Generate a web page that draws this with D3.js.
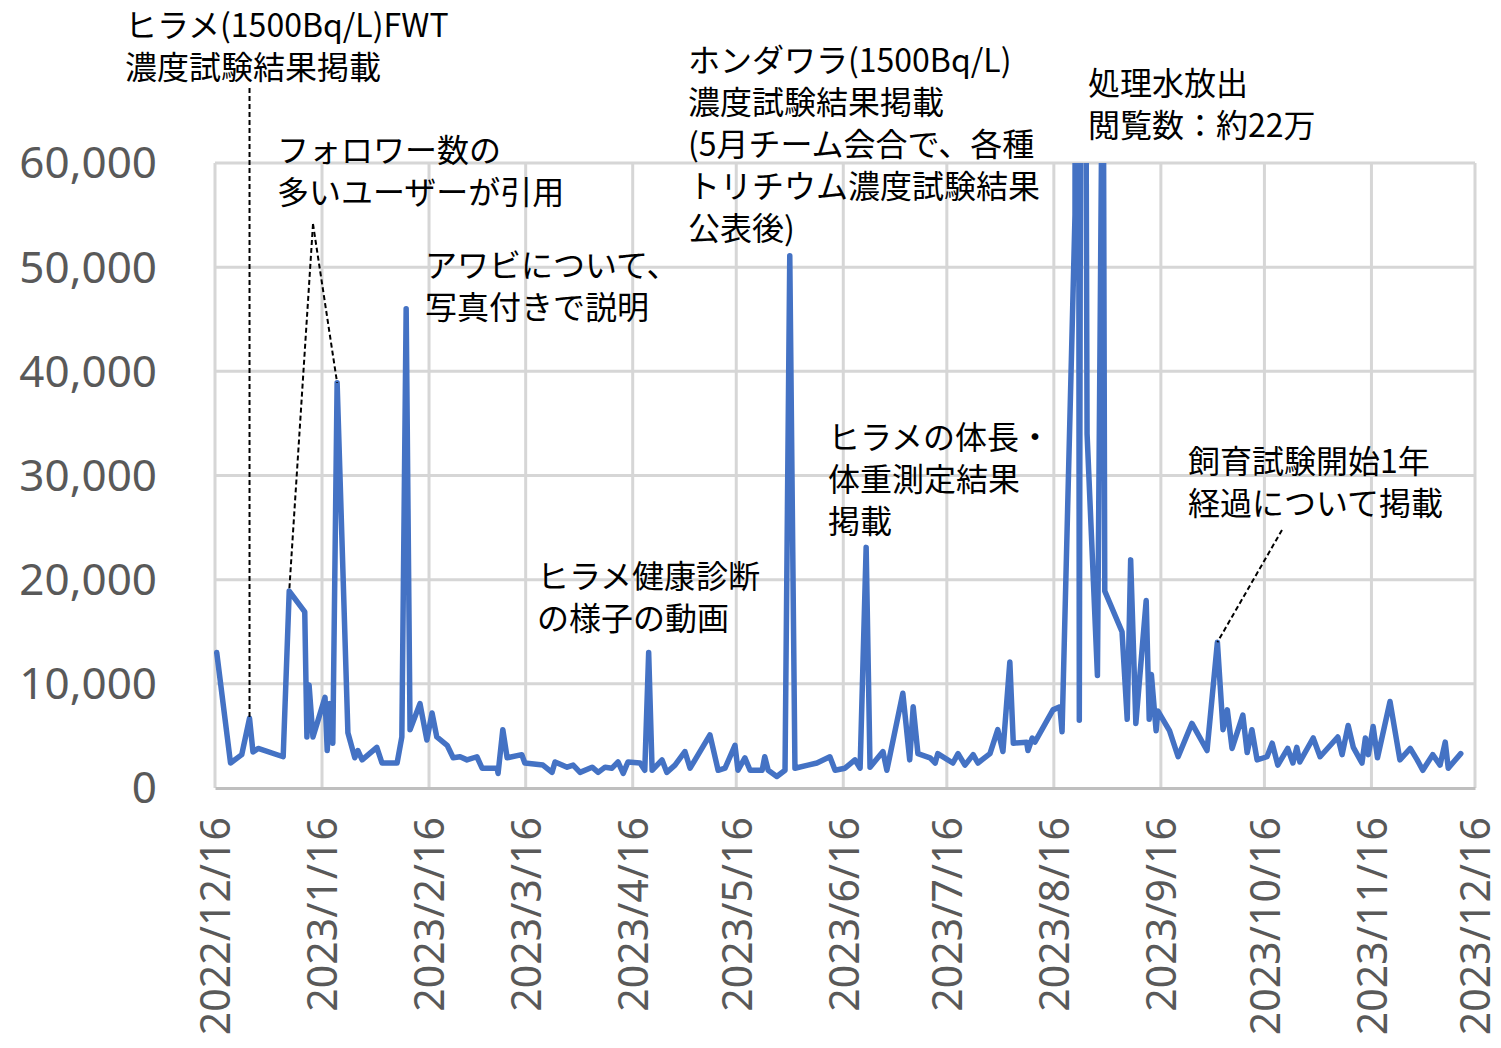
<!DOCTYPE html>
<html><head><meta charset="utf-8">
<script src="https://cdn.jsdelivr.net/npm/d3@7"></script>
<style>
html,body{margin:0;padding:0;background:#fff;}
svg{display:block;}
</style></head>
<body>
<svg id="chart" width="1501" height="1048"></svg>
<script>
// ---- data ----
const dates = [
"2022-12-16T12","2022-12-20T12","2022-12-23T18","2022-12-26T00","2022-12-27T00","2022-12-28T12",
"2023-01-04T18","2023-01-06T12","2023-01-11T00","2023-01-11T15","2023-01-12T06","2023-01-13T09",
"2023-01-16T21","2023-01-17T12","2023-01-18T06","2023-01-19T03","2023-01-20T09","2023-01-23T12",
"2023-01-25T12","2023-01-26T09","2023-01-27T15","2023-01-31T21","2023-02-02T09","2023-02-06T18",
"2023-02-08T03","2023-02-09T09","2023-02-10T12","2023-02-13T09","2023-02-15T09","2023-02-16T21",
"2023-02-18T06","2023-02-21T06","2023-02-23T00","2023-02-25T00","2023-02-27T00","2023-03-01T21",
"2023-03-03T09","2023-03-07T18","2023-03-08T00","2023-03-09T09","2023-03-10T15","2023-03-14T21",
"2023-03-15T18","2023-03-21T00","2023-03-23T15","2023-03-24T12","2023-03-28T00","2023-03-29T18",
"2023-03-31T18","2023-04-04T06","2023-04-06T00","2023-04-08T00","2023-04-10T00","2023-04-11T18",
"2023-04-13T06","2023-04-14T15","2023-04-18T03","2023-04-19T12","2023-04-20T15","2023-04-21T15",
"2023-04-24T12","2023-04-25T21","2023-04-28T06","2023-05-01T03","2023-05-02T15","2023-05-08T09",
"2023-05-10T18","2023-05-12T18","2023-05-15T15","2023-05-16T12","2023-05-18T12","2023-05-20T00",
"2023-05-23T12","2023-05-24T06","2023-05-25T06","2023-05-27T18","2023-05-30T03","2023-05-31T12",
"2023-06-02T00","2023-06-05T18","2023-06-08T09","2023-06-12T03","2023-06-13T15","2023-06-16T12",
"2023-06-19T09","2023-06-20T21","2023-06-22T15","2023-06-23T18","2023-06-27T12","2023-06-28T15",
"2023-07-03T06","2023-07-05T06","2023-07-06T06","2023-07-07T15","2023-07-11T03","2023-07-12T15",
"2023-07-13T09","2023-07-17T18","2023-07-19T06","2023-07-21T06","2023-07-23T15","2023-07-25T00",
"2023-07-28T12","2023-07-30T18","2023-08-01T06","2023-08-03T06","2023-08-04T06","2023-08-08T03",
"2023-08-08T12","2023-08-09T18","2023-08-10T12","2023-08-15T18","2023-08-17T18","2023-08-18T09",
"2023-08-22T03","2023-08-22T18","2023-08-23T09","2023-08-24T06","2023-08-25T00","2023-08-25T15",
"2023-08-28T15","2023-08-30T06","2023-08-30T18","2023-09-04T18","2023-09-06T06","2023-09-07T06",
"2023-09-08T18","2023-09-11T18","2023-09-12T15","2023-09-13T06","2023-09-14T15","2023-09-15T03",
"2023-09-18T12","2023-09-21T00","2023-09-25T00","2023-09-29T09","2023-10-02T09","2023-10-04T00",
"2023-10-05T06","2023-10-06T15","2023-10-09T18","2023-10-11T00","2023-10-12T09","2023-10-13T21",
"2023-10-16T18","2023-10-18T06","2023-10-19T21","2023-10-22T18","2023-10-24T06","2023-10-25T09",
"2023-10-26T06","2023-10-30T03","2023-11-01T03","2023-11-06T06","2023-11-07T12","2023-11-09T06",
"2023-11-10T18","2023-11-13T06","2023-11-14T06","2023-11-15T03","2023-11-16T12","2023-11-17T18",
"2023-11-21T09","2023-11-24T06","2023-11-27T06","2023-11-29T06","2023-11-30T21","2023-12-03T18",
"2023-12-05T21","2023-12-07T09","2023-12-08T06","2023-12-11T21"
];
const views = [
13000,2400,3200,6700,3450,3800,
3000,18900,16900,4900,9900,4900,
8700,3600,8100,4300,38900,5300,
2900,3600,2700,3900,2400,2400,
4900,46000,5600,8100,4600,7200,
4900,4100,2900,3000,2700,3000,
1900,1900,1400,5600,2900,3200,
2400,2200,1500,2500,2000,2200,
1500,2000,1500,2000,1900,2500,
1400,2500,2400,1700,13000,1700,
2700,1500,2200,3500,1900,5100,
1700,1900,4100,1700,2900,1700,
1700,3000,1700,1100,1700,51100,
1900,2200,2400,3000,1700,1900,
2700,1900,23100,2000,3500,1700,
9100,2700,7800,3300,2900,2400,
3300,2400,3300,2200,3200,2400,
3300,5600,3500,12100,4300,4400,
3600,4800,4400,7500,7800,5400,
55000,220000,6500,150000,100000,34000,
10800,80000,18900,15000,6600,21900,
6200,18000,6600,10900,5500,7400,
5500,3000,6200,3600,14000,5600,
7500,3800,7000,3400,5600,2700,
3000,4300,2200,3800,2400,3900,
2500,4800,3000,4900,3200,6000,
3900,2400,4800,3200,5900,2900,
8300,2700,3800,2700,1700,3200,
2200,4400,1900,3300
];
const yTicks = [0,10000,20000,30000,40000,50000,60000];
const xTickLabels = ["2022/12/16","2023/1/16","2023/2/16","2023/3/16","2023/4/16","2023/5/16",
  "2023/6/16","2023/7/16","2023/8/16","2023/9/16","2023/10/16","2023/11/16","2023/12/16"];
const notes = [
  {lines:["ヒラメ(1500Bq/L)FWT","濃度試験結果掲載"]},
  {lines:["フォロワー数の","多いユーザーが引用"]},
  {lines:["アワビについて、","写真付きで説明"]},
  {lines:["ホンダワラ(1500Bq/L)","濃度試験結果掲載","(5月チーム会合で、各種","トリチウム濃度試験結果","公表後)"]},
  {lines:["処理水放出","閲覧数：約22万"]},
  {lines:["ヒラメ健康診断","の様子の動画"]},
  {lines:["ヒラメの体長・","体重測定結果","掲載"]},
  {lines:["飼育試験開始1年","経過について掲載"]}
];

// ---- drawing ----
const parse = d3.timeParse("%Y-%m-%dT%H");
const parseTick = d3.timeParse("%Y/%m/%d");
const data = dates.map((d,i)=>({date:parse(d), v:views[i]}));
const tickDates = xTickLabels.map(parseTick);

const L=215, R=1475, T=163, B=788;
const x = d3.scaleTime().domain([tickDates[0], tickDates[tickDates.length-1]]).range([L,R]);
const y = d3.scaleLinear().domain([0,60000]).range([B,T]);

const svg = d3.select("#chart");
const grid = svg.append("g");
grid.selectAll("line.h").data(yTicks.filter(t=>t>0)).join("line")
  .attr("x1",L).attr("x2",R).attr("y1",d=>y(d)).attr("y2",d=>y(d))
  .attr("stroke","#d6d6d6").attr("stroke-width",3);
grid.selectAll("line.v").data(tickDates).join("line")
  .attr("x1",d=>x(d)).attr("x2",d=>x(d)).attr("y1",T).attr("y2",B)
  .attr("stroke","#d6d6d6").attr("stroke-width",3);

// y axis labels
const yAxis = d3.axisLeft(y).tickValues(yTicks).tickFormat(d3.format(",")).tickSize(0).tickPadding(0);
const gy = svg.append("g").attr("transform",`translate(${L-58},0)`).call(yAxis);
gy.select(".domain").remove();
gy.selectAll("text").attr("font-family","'Noto Sans', sans-serif").attr("font-size",44)
  .attr("fill","#595959").attr("dy","0.34em");

// x axis
const xAxis = d3.axisBottom(x).tickValues(tickDates).tickFormat((d,i)=>xTickLabels[i]).tickSize(0);
const gx = svg.append("g").attr("transform",`translate(0,${B})`).call(xAxis);
gx.select(".domain").attr("stroke","#bfbfbf").attr("stroke-width",3);
gx.selectAll("text").attr("font-family","'Noto Sans', sans-serif").attr("font-size",41)
  .attr("fill","#595959")
  .attr("transform","rotate(-90)").attr("text-anchor","end")
  .attr("x",-29).attr("y",0).attr("dy","0.36em");

// line
svg.append("clipPath").attr("id","plotclip").append("rect")
  .attr("x",L-5).attr("y",T).attr("width",R-L+10).attr("height",B-T+5);
const line = d3.line().x(d=>x(d.date)).y(d=>y(d.v));
svg.append("path").datum(data).attr("clip-path","url(#plotclip)")
  .attr("d",line).attr("fill","none").attr("stroke","#4472c4")
  .attr("stroke-width",5.5).attr("stroke-linejoin","round").attr("stroke-linecap","round");

// annotations
const notePos = [[125,25],[277,150],[425,265],[688,60],[1088,83],[537,576],[828,437],[1188,461]];
const gN = svg.append("g").attr("font-family","'Noto Sans CJK JP', sans-serif").attr("font-size",32).attr("fill","#000");
notes.forEach((n,i)=>{
  const t = gN.append("text").attr("x",notePos[i][0]).attr("y",notePos[i][1]);
  n.lines.forEach((s,j)=>{
    t.append("tspan").attr("x",notePos[i][0]).attr("y",notePos[i][1]+j*42).attr("dy","0.36em").text(s);
  });
});

// leader lines
const pt = i => [x(data[i].date), y(data[i].v)];
const findIdx = s => dates.indexOf(s);
const pA = pt(findIdx("2022-12-26T00"));
const pB1 = pt(findIdx("2023-01-06T12"));
const pB2 = pt(findIdx("2023-01-20T09"));
const pH = pt(findIdx("2023-10-02T09"));
const leaders = [
  [[pA[0],88],pA],
  [[313,224],pB1],
  [[313,224],pB2],
  [[1282,530],pH]
];
svg.append("g").selectAll("line").data(leaders).join("line")
  .attr("x1",d=>d[0][0]).attr("y1",d=>d[0][1]).attr("x2",d=>d[1][0]).attr("y2",d=>d[1][1])
  .attr("stroke","#000").attr("stroke-width",2).attr("stroke-dasharray","5,3");
</script>
</body></html>
